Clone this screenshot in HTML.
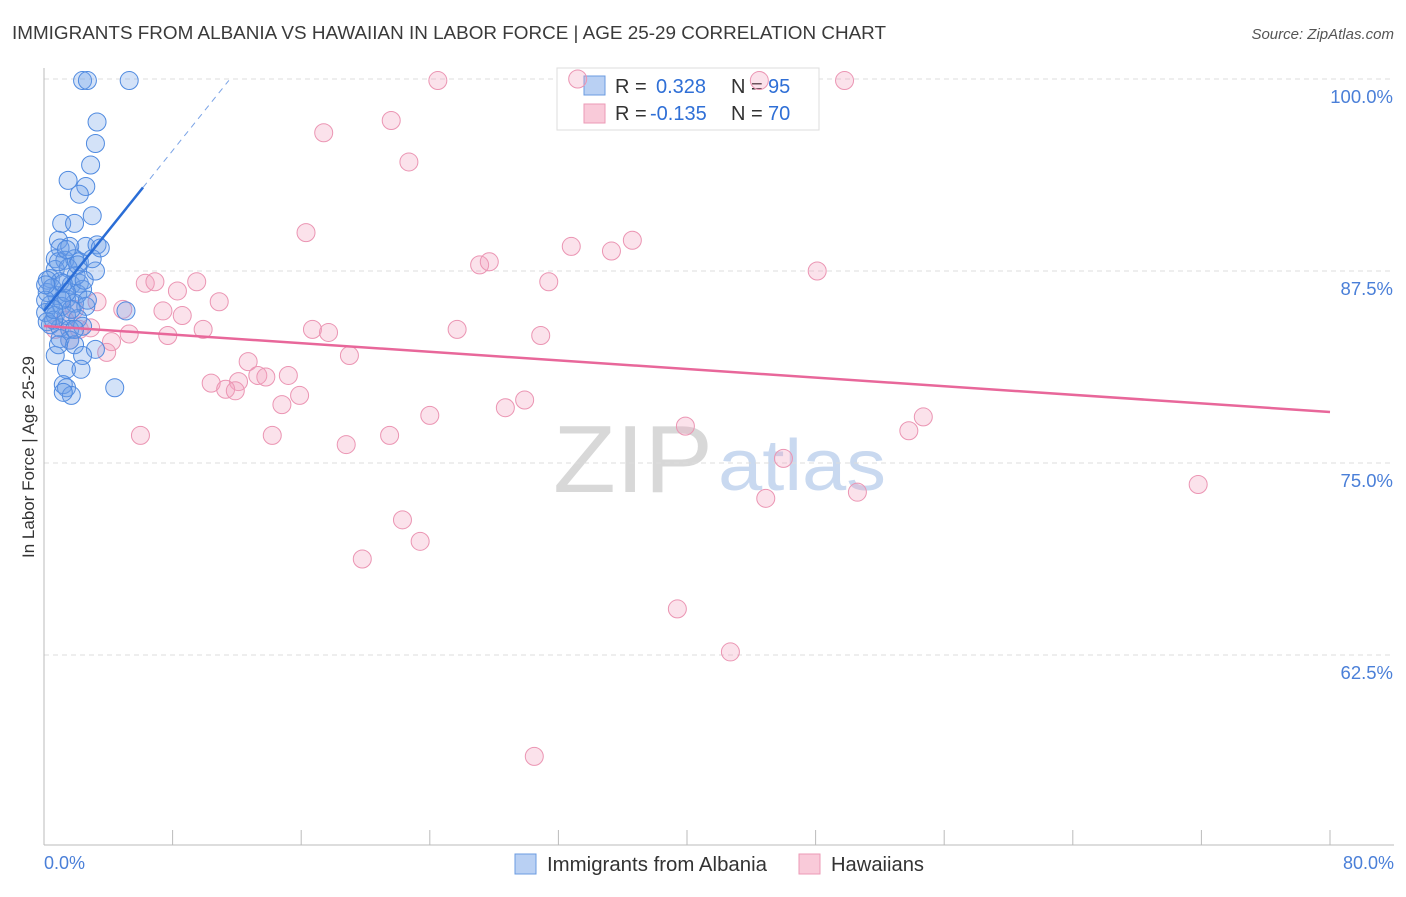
<!DOCTYPE html>
<html><head><meta charset="utf-8"><style>
body{margin:0;background:#fff;font-family:"Liberation Sans",sans-serif}
svg text{font-family:"Liberation Sans",sans-serif}
</style></head><body>
<svg id="chart" width="1406" height="892" xmlns="http://www.w3.org/2000/svg">
<text x="12" y="39" font-size="18" fill="#3a3a3a" textLength="874" lengthAdjust="spacingAndGlyphs">IMMIGRANTS FROM ALBANIA VS HAWAIIAN IN LABOR FORCE | AGE 25-29 CORRELATION CHART</text>
<text x="1394" y="39" font-size="15" fill="#555" font-style="italic" text-anchor="end">Source: ZipAtlas.com</text>
<g>
<text x="553" y="492" font-size="96" fill="#d8d8d8" font-family="Liberation Serif" textLength="160" lengthAdjust="spacingAndGlyphs">ZIP</text>
<text x="718" y="490" font-size="72" fill="#c9d9f0" textLength="168" lengthAdjust="spacingAndGlyphs">atlas</text>
</g>
<g id="grid"></g>
<line x1="44" y1="68" x2="44" y2="845" stroke="#bbb"/>
<line x1="44" y1="845" x2="1394" y2="845" stroke="#bbb"/>
<g id="xticks"></g>
<text transform="translate(34,457) rotate(-90)" font-size="17" fill="#333" text-anchor="middle">In Labor Force | Age 25-29</text>
<text x="44" y="869" font-size="18" fill="#4a7fd8">0.0%</text>
<text x="1394" y="869" font-size="18" fill="#4a7fd8" text-anchor="end">80.0%</text>
<g>
<rect x="557" y="68" width="262" height="62" fill="#fff" stroke="#ddd"/>
<rect x="584" y="76" width="21" height="19" fill="#b9d0f3" stroke="#6b9be0"/>
<rect x="584" y="104" width="21" height="19" fill="#f9cad9" stroke="#ec9ab6"/>
<text x="615" y="93" font-size="20" fill="#333">R = <tspan x="656" fill="#2f6fd6">0.328</tspan></text>
<text x="731" y="93" font-size="20" fill="#333">N = <tspan x="768" fill="#2f6fd6">95</tspan></text>
<text x="615" y="120" font-size="20" fill="#333">R = <tspan x="650" fill="#2f6fd6">-0.135</tspan></text>
<text x="731" y="120" font-size="20" fill="#333">N = <tspan x="768" fill="#2f6fd6">70</tspan></text>
</g>
<g id="pink"></g>
<g id="blue"></g>
<g id="lines"></g>
<g>
<rect x="515" y="854" width="21" height="20" fill="#b9d0f3" stroke="#6b9be0"/>
<text x="547" y="871" font-size="20" fill="#333" textLength="220" lengthAdjust="spacingAndGlyphs">Immigrants from Albania</text>
<rect x="799" y="854" width="21" height="20" fill="#f9cad9" stroke="#ec9ab6"/>
<text x="831" y="871" font-size="20" fill="#333" textLength="93" lengthAdjust="spacingAndGlyphs">Hawaiians</text>
</g>
</svg>
<script>
const yTicks=[100,87.5,75,62.5];
const yTickLabels=["100.0%","87.5%","75.0%","62.5%"];
const xTicks=[0,8,16,24,32,40,48,56,64,72,80];
const blueX=[2.4,2.7,5.3,3.3,3.2,2.9,1.5,2.6,2.2,3.0,1.1,1.9,0.9,1.0,1.6,2.6,3.3,0.7,1.3,1.9,2.2,0.7,3.2,1.5,0.4,1.0,1.7,2.2,0.2,0.8,1.4,2.1,2.4,0.4,1.1,1.9,2.6,0.1,0.7,1.4,2.1,5.1,0.4,1.0,1.6,2.4,1.6,1.0,1.9,3.2,0.7,2.4,1.4,2.3,1.2,1.4,1.7,1.2,4.4,0.2,0.5,0.1,0.9,1.4,2.0,2.7,0.6,0.2,1.2,1.7,2.1,3.0,3.5,0.1,1.1,0.6,2.5,1.4,1.9,0.9];
const blueY=[99.9,99.9,99.9,97.2,95.8,94.4,93.4,93.0,92.5,91.1,90.6,90.6,89.5,89.0,89.1,89.1,89.2,88.3,88.2,88.3,88.1,87.6,87.5,87.7,87.0,86.8,86.6,86.7,86.1,85.9,85.7,86.0,86.3,85.3,85.2,85.4,85.2,84.8,84.6,84.6,84.4,84.9,84.0,83.8,83.7,83.9,83.0,83.1,82.7,82.4,82.0,82.0,81.1,81.1,80.1,79.9,79.4,79.6,79.9,86.9,86.4,85.6,88.1,86.1,87.2,85.6,84.3,84.2,86.7,85.0,87.9,88.3,89.0,86.6,85.6,85.0,86.9,88.9,83.7,82.7];
const pinkX=[24.5,33.2,44.5,49.8,17.4,21.6,22.7,16.3,32.8,35.3,36.6,27.1,27.7,31.4,48.1,6.3,6.9,9.5,8.3,10.9,3.3,4.9,7.4,8.6,9.9,5.3,7.7,4.2,3.9,16.7,17.7,25.7,30.9,19.0,12.7,13.3,13.8,15.2,10.4,12.1,11.3,11.9,15.9,14.8,24.0,28.7,29.9,6.0,14.2,18.8,21.5,39.9,54.7,53.8,46.0,44.9,50.6,71.8,22.3,23.4,19.8,39.4,42.7,30.5,2.2,1.6,0.7,2.9,1.3,1.9];
const pinkY=[99.9,100,99.9,99.9,96.5,97.3,94.6,90.0,89.1,88.8,89.5,87.9,88.1,86.8,87.5,86.7,86.8,86.8,86.2,85.5,85.5,85.0,84.9,84.6,83.7,83.4,83.3,82.9,82.2,83.7,83.5,83.7,83.3,82.0,81.6,80.7,80.6,80.7,80.2,80.3,79.8,79.7,79.4,78.8,78.1,78.6,79.1,76.8,76.8,76.2,76.8,77.4,78.0,77.1,75.3,72.7,73.1,73.6,71.3,69.9,68.75,65.5,62.7,55.9,83.7,83.0,83.7,83.8,84.3,85.0];
const blueTrend=[84.9,1.305];
const pinkTrend=[83.92,-0.07];
const NS="http://www.w3.org/2000/svg";
const sx=v=>44+v*16.075, sy=v=>79+(100-v)*15.36;
function mk(t,a,p){const e=document.createElementNS(NS,t);for(const k in a)e.setAttribute(k,a[k]);p.appendChild(e);return e;}
const grid=document.getElementById('grid');
yTicks.forEach((v,i)=>{
 const l=mk('line',{x1:44,x2:1394,y1:sy(v),y2:sy(v),stroke:'#ddd','stroke-dasharray':'5,4'},grid);
 
 
 const t=mk('text',{x:1393,y:sy(v)+24,'font-size':18.5,fill:'#4a7fd8','text-anchor':'end'},grid);
 t.textContent=yTickLabels[i];
 
 
});
const xt=document.getElementById('xticks');
xTicks.forEach(v=>{
 const l=mk('line',{x1:sx(v),x2:sx(v),y1:830,y2:845,stroke:'#bbb'},xt);
 
 
});
const pg=document.getElementById('pink');
pinkX.forEach((x,i)=>{
 const c=mk('circle',{cx:sx(x),cy:sy(pinkY[i]),r:9,fill:'rgba(242,160,188,0.3)',stroke:'#eb95b3','stroke-width':1},pg);
 
 
});
const bg=document.getElementById('blue');
blueX.forEach((x,i)=>{
 const c=mk('circle',{cx:sx(x),cy:sy(blueY[i]),r:9,fill:'rgba(110,160,232,0.3)',stroke:'#4f8ae0','stroke-width':1},bg);
 
 
});
const lg=document.getElementById('lines');
const bt=x=>blueTrend[0]+blueTrend[1]*x, pt=x=>pinkTrend[0]+pinkTrend[1]*x;
const b1=mk('line',{x1:sx(0),y1:sy(bt(0)),x2:sx(6.16),y2:sy(bt(6.16)),stroke:'#2a6dd6','stroke-width':2.5},lg);


const b2=mk('line',{x1:sx(6.16),y1:sy(bt(6.16)),x2:sx(11.5),y2:sy(bt(11.5)),stroke:'#7aa3e6','stroke-width':1,'stroke-dasharray':'6,5'},lg);


const p1=mk('line',{x1:sx(0),y1:sy(pt(0)),x2:sx(80),y2:sy(pt(80)),stroke:'#e8679a','stroke-width':2.5},lg);


</script>
</body></html>
